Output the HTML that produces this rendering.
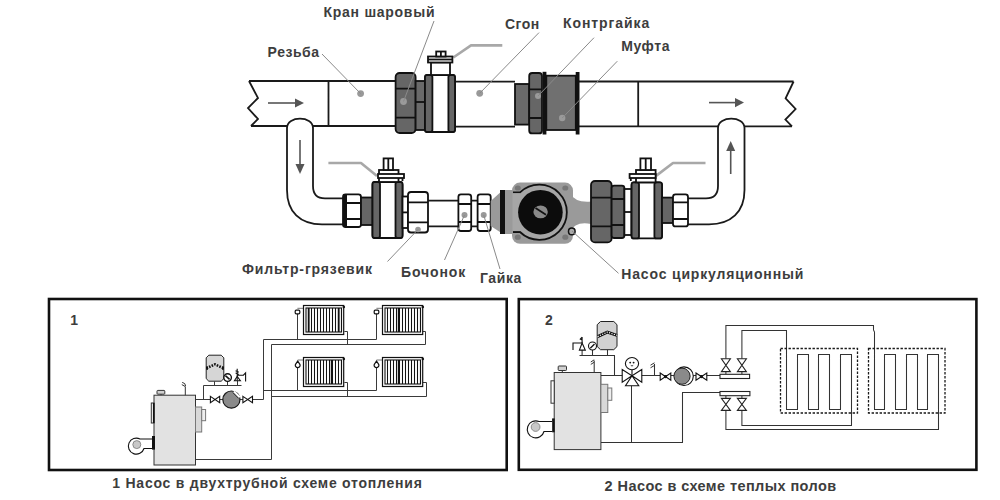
<!DOCTYPE html>
<html><head><meta charset="utf-8">
<style>
html,body{margin:0;padding:0;background:#fff;width:1000px;height:500px;overflow:hidden}
svg{display:block}
text{font-family:"Liberation Sans",sans-serif;font-weight:bold;fill:#3d3d3d;font-size:14px}
</style></head><body>
<svg width="1000" height="500" viewBox="0 0 1000 500">
<rect width="1000" height="500" fill="#fff"/>

<!-- ============ TOP DIAGRAM ============ -->
<g id="top" fill="none" stroke="#1a1a1a" stroke-width="1.8">
  <!-- top pipe left -->
  <path d="M249,81 H396 M251,126 H287 M313,126 H396 M249,81 L258,98 L248,108 L258,119 L251,126 M328.5,81 V126"/>
  <!-- top pipe right -->
  <path d="M579,81.5 H793.6 M579,126.4 H718 M744.5,126.4 H792 M793.6,81.5 L785.6,98.4 L795.6,109 L785.4,119.6 L792,126.4 M638.2,81.5 V126.4"/>
  <!-- Сгон pipe -->
  <path d="M455,81.7 H515 M455,126.6 H515"/>
  <!-- left elbow -->
  <path d="M287,128 C287,115.5 313,115.5 313,128 V186 Q313,198.4 325,198.4 H345 M287,128 V190 C287,212 300,224.4 322,224.4 H345"/>
  <!-- right elbow -->
  <path d="M718,128 C718,115.5 744.5,115.5 744.5,128 V190 C744.5,212 731,224.4 709,224.4 H688 M718,128 V186 Q718,198.4 706,198.4 H688"/>
  <!-- narrow pipe between filter and pump -->
  <path d="M428,200.7 H458.5 M428,226.3 H458.5 M471.2,200.7 H477.6 M471.2,226.3 H477.6"/>
</g>

<!-- arrows -->
<g stroke="#555" stroke-width="1.6" fill="#555">
  <path d="M268,103 H298" fill="none"/><path d="M295,98.5 L304,103 L295,107.5 Z" stroke="none"/>
  <path d="M709,102.6 H738" fill="none"/><path d="M735,98 L744,102.6 L735,107.2 Z" stroke="none"/>
  <path d="M300,140 V167" fill="none"/><path d="M295.5,164 L300,174 L304.5,164 Z" stroke="none"/>
  <path d="M730.7,148 V174" fill="none"/><path d="M726.2,151 L730.7,141 L735.2,151 Z" stroke="none"/>
</g>

<!-- levers -->
<g stroke="#a8a8a8" stroke-width="2.6" fill="none" stroke-linejoin="round">
  <path d="M453.3,57.5 L471,45.4 H502.3"/>
  <path d="M377,176 L361,163 H328.4"/>
  <path d="M656.4,175.6 L673,163 H705.5"/>
</g>

<!-- ===== top run components ===== -->
<g stroke="#111" stroke-width="1.8">
  <!-- Кран шаровый nut -->
  <rect x="395.6" y="73" width="20" height="60" rx="4" fill="#666"/>
  <path d="M395.6,88.6 H415.6 M395.6,117.6 H415.6" fill="none"/>
  <rect x="415.6" y="81" width="9.4" height="49" fill="#6a6a6a"/>
  <path d="M415.6,102 H425" fill="none"/>
  <!-- ball valve C -->
  <rect x="425" y="75" width="30" height="57" rx="3" fill="#fff"/>
  <rect x="425" y="75" width="7.4" height="57" rx="2" fill="#666"/>
  <rect x="448.4" y="75" width="6.6" height="57" rx="2" fill="#666"/>
  <rect x="431" y="62.4" width="19" height="12.6" fill="#fff"/>
  <rect x="428" y="56.5" width="24.4" height="6" fill="#fff"/>
  <path d="M428,59.5 H452.4" fill="none"/>
  <rect x="436.2" y="51.5" width="9.4" height="5" fill="#fff"/>
  <path d="M440.9,51.5 V56.5" fill="none"/>
  <!-- dark section + Контргайка -->
  <rect x="515" y="84" width="14.2" height="40.6" fill="#6a6a6a"/>
  <rect x="529.2" y="73" width="12.8" height="60.4" rx="3" fill="#666"/>
  <path d="M529.2,89.4 H542 M529.2,118 H542" fill="none"/>
  <rect x="542.6" y="71.8" width="3.8" height="62.7" fill="#111" stroke="none"/>
  <rect x="546.3" y="75.7" width="29.5" height="54.3" fill="#707070"/>
  <rect x="575.7" y="72" width="3.8" height="62.5" fill="#111" stroke="none"/>
</g>

<!-- ===== bottom run components ===== -->
<g stroke="#111" stroke-width="1.8">
  <!-- white nut A -->
  <rect x="343" y="194.4" width="18" height="32.6" rx="2.5" fill="#fff"/>
  <rect x="343" y="194.4" width="4" height="32.6" fill="#111" stroke="none"/>
  <path d="M343,203 H361 M343,219 H361" fill="none"/>
  <rect x="361" y="197.5" width="12" height="27.5" fill="#666"/>
  <!-- ball valve A -->
  <rect x="372.5" y="182" width="30" height="56" rx="3" fill="#fff"/>
  <rect x="372.5" y="182" width="7.5" height="56" rx="2" fill="#666"/>
  <rect x="395.5" y="182" width="7" height="56" rx="2" fill="#666"/>
  <rect x="379" y="170" width="19.5" height="12" fill="#fff"/>
  <rect x="378" y="174" width="26" height="4" fill="#fff"/>
  <path d="M402.5,178 V181" fill="none"/>
  <rect x="383.6" y="158.4" width="9.4" height="11.6" fill="#fff"/>
  <path d="M388.3,158.4 V170" fill="none"/>
  <!-- small section + filter nut -->
  <rect x="402.5" y="196.5" width="5.5" height="31.5" fill="#fff"/>
  <path d="M402.5,212.4 H408" fill="none"/>
  <rect x="408" y="192" width="20" height="40.5" rx="3" fill="#fff"/>
  <path d="M408,202.4 H428 M408,222.4 H428" fill="none"/>
  <!-- Бочонок & Гайка -->
  <rect x="458.4" y="194.3" width="12.8" height="36.7" rx="2.5" fill="#fff"/>
  <path d="M458.4,204 H471.2 M458.4,222 H471.2" fill="none"/>
  <rect x="477.6" y="194.3" width="13.1" height="36.7" rx="2.5" fill="#fff"/>
  <path d="M477.6,204 H490.7 M477.6,222 H490.7" fill="none"/>
</g>

<!-- pump -->
<g>
  <path d="M490.7,201 L503,190 V234 L490.7,226 Z" fill="#9a9a9a"/>
  <rect x="503" y="190" width="14" height="44" fill="#9a9a9a"/>
  <rect x="512" y="182.6" width="61" height="61.2" rx="8" fill="#9a9a9a"/>
  <path d="M570,193 Q575,203 591,201.5 V224 Q575,221 570,232 Z" fill="#9a9a9a"/>
  <rect x="500" y="190" width="5" height="44" fill="#111"/>
  <path d="M513,192.4 H520 A27.6,27.6 0 1,1 520,232 H513" fill="#a6a6a6" stroke="#111" stroke-width="1.8"/>
  <rect x="512.5" y="193.3" width="8" height="37.8" fill="#a6a6a6"/>
  <circle cx="540.4" cy="212.2" r="22.3" fill="#0c0c0c"/>
  <ellipse cx="540.6" cy="211.9" rx="7.2" ry="6.4" fill="#8a8a8a"/>
  <path d="M535.5,208 L546,214.8" stroke="#111" stroke-width="1.7"/>
  <ellipse cx="517.8" cy="188" rx="3" ry="2.6" fill="#777"/>
  <ellipse cx="565.3" cy="188" rx="3" ry="2.6" fill="#777"/>
  <ellipse cx="517.8" cy="237.2" rx="3" ry="2.6" fill="#777"/>
  <ellipse cx="565.3" cy="237.2" rx="3" ry="2.6" fill="#777"/>
  <circle cx="571.8" cy="231.4" r="3.3" fill="#aaa" stroke="#111" stroke-width="1.5"/>
</g>

<!-- right valves -->
<g stroke="#111" stroke-width="1.8">
  <rect x="591" y="181" width="20.6" height="61.4" rx="4" fill="#666"/>
  <path d="M591,197.6 H611.6 M591,226.4 H611.6" fill="none"/>
  <rect x="611.6" y="185.6" width="12.8" height="52.4" rx="2.5" fill="#666"/>
  <path d="M611.6,199 H624.4 M611.6,225 H624.4" fill="none"/>
  <rect x="624.4" y="189" width="7.2" height="46" fill="#fff"/>
  <path d="M624.4,212 H631.6" fill="none"/>
  <rect x="631.6" y="182.4" width="30.4" height="56" rx="3" fill="#fff"/>
  <rect x="631.6" y="182.4" width="7.4" height="56" rx="2" fill="#666"/>
  <rect x="654.4" y="182.4" width="7.6" height="56" rx="2" fill="#666"/>
  <rect x="636" y="170" width="19.6" height="12.4" fill="#fff"/>
  <rect x="629.6" y="174" width="26" height="4" fill="#fff"/>
  <path d="M630.8,178 V181" fill="none"/>
  <rect x="640.4" y="158.4" width="10.6" height="11.6" fill="#fff"/>
  <path d="M645.7,158.4 V170" fill="none"/>
  <rect x="662" y="197.6" width="11" height="25.4" fill="#666"/>
  <rect x="673" y="194.4" width="15" height="32" rx="2.5" fill="#fff"/>
  <path d="M673,202.4 H688 M673,219 H688" fill="none"/>
</g>

<!-- dots -->
<g fill="#999">
  <circle cx="360.6" cy="93.6" r="3.4"/>
  <circle cx="479.7" cy="93.3" r="3.4"/>
  <circle cx="403.5" cy="101.5" r="3.4" fill="#9a9a9a"/>
  <circle cx="538" cy="96" r="3" fill="#9a9a9a"/>
  <circle cx="562.2" cy="118" r="3.2" fill="#9a9a9a"/>
  <circle cx="418" cy="229.5" r="2.8"/>
  <circle cx="464.5" cy="215" r="3"/>
  <circle cx="483.7" cy="215" r="3"/>
</g>

<!-- leaders -->
<g stroke="#8a8a8a" stroke-width="1" fill="none">
  <path d="M322,54 L360.6,93.6"/>
  <path d="M434,21 L403.5,101.5"/>
  <path d="M539,32.6 L479.7,93.3"/>
  <path d="M594,37.7 L538,96"/>
  <path d="M617.3,61.2 L562.2,118"/>
  <path d="M387.5,261.5 L418,229.5"/>
  <path d="M444.5,260 L464.5,215"/>
  <path d="M500,269 L483.7,215"/>
  <path d="M618.5,273.3 L572,231"/>
</g>

<!-- labels -->
<text x="323.5" y="16.6" textLength="111.0" lengthAdjust="spacing">Кран шаровый</text>
<text x="267.6" y="57.3" textLength="51.5" lengthAdjust="spacing">Резьба</text>
<text x="505.0" y="29.3" textLength="34.3" lengthAdjust="spacing">Сгон</text>
<text x="563.0" y="28.2" textLength="86.3" lengthAdjust="spacing">Контргайка</text>
<text x="621.2" y="50.5" textLength="48.3" lengthAdjust="spacing">Муфта</text>
<text x="242.0" y="273.7" textLength="130.0" lengthAdjust="spacing">Фильтр-грязевик</text>
<text x="401.0" y="276.7" textLength="64.3" lengthAdjust="spacing">Бочонок</text>
<text x="480.0" y="282.7" textLength="41.3" lengthAdjust="spacing">Гайка</text>
<text x="621.3" y="279.3" textLength="182.0" lengthAdjust="spacing">Насос циркуляционный</text>

<!-- ===== PANEL 1 ===== -->
<g id="p1">
<!-- pipes -->
<g fill="none" stroke="#3a3a3a" stroke-width="1">
  <path d="M195.5,399.5 H263.5 V339.5 H376.5 M263.5,390.5 H376.5"/>
  <path d="M271.5,459.5 H195.5 M271.5,459.5 V344.5 H425.5 V331.5 H422.7 M271.5,396.5 H426.5 V382.5 H423"/>
  <path d="M347.5,344.5 V331.5 H344.4 M347.5,396.5 V382.5 H344.4"/>
  <path d="M297.5,313.6 V339.5 M376.5,313.6 V339.5 M297.5,365.6 V390.5 M376.5,365.6 V390.5"/>
  <path d="M297.4,308.3 H303.2 M376.4,308.3 H382.4 M297.7,360 H303.2 M376.5,360 H382.4" stroke="#666" stroke-width="0.9"/>
  <path d="M203.5,399.5 V385.5 H241.5 M214.5,381.4 V385.5 M227.5,381.2 V385.5 M237.5,381 V385.5"/>
</g>
<rect x="303.5" y="305.5" width="40.2" height="29" fill="#fff" stroke="#111" stroke-width="1.2"/>
<rect x="306" y="308" width="35.5" height="24" fill="#fff" stroke="#111" stroke-width="1.1"/>
<path d="M308.5,308 V332 M311.5,308 V332 M314.5,308 V332 M317.5,308 V332 M320.5,308 V332 M323.5,308 V332 M326.5,308 V332 M329.5,308 V332 M332.5,308 V332 M335.5,308 V332 M338.5,308 V332 M341.5,308 V332" stroke="#111" stroke-width="1.05"/>
<rect x="307.8" y="308" width="1.8" height="24" fill="#111"/>
<rect x="337.8" y="308" width="1.8" height="24" fill="#111"/>
<circle cx="343.8" cy="307" r="1.3" fill="#111"/>
<rect x="382.5" y="305.5" width="40.2" height="29" fill="#fff" stroke="#111" stroke-width="1.2"/>
<rect x="385" y="308" width="35.5" height="24" fill="#fff" stroke="#111" stroke-width="1.1"/>
<path d="M387.5,308 V332 M390.5,308 V332 M393.5,308 V332 M396.5,308 V332 M399.5,308 V332 M402.5,308 V332 M405.5,308 V332 M408.5,308 V332 M411.5,308 V332 M414.5,308 V332 M417.5,308 V332 M420.5,308 V332" stroke="#111" stroke-width="1.05"/>
<rect x="397.8" y="308" width="1.8" height="24" fill="#111"/>
<circle cx="422.8" cy="307" r="1.3" fill="#111"/>
<rect x="303.5" y="357.5" width="40.2" height="29" fill="#fff" stroke="#111" stroke-width="1.2"/>
<rect x="306" y="360" width="35.5" height="24" fill="#fff" stroke="#111" stroke-width="1.1"/>
<path d="M308.5,360 V384 M311.5,360 V384 M314.5,360 V384 M317.5,360 V384 M320.5,360 V384 M323.5,360 V384 M326.5,360 V384 M329.5,360 V384 M332.5,360 V384 M335.5,360 V384 M338.5,360 V384 M341.5,360 V384" stroke="#111" stroke-width="1.05"/>
<rect x="330.8" y="360" width="1.8" height="24" fill="#111"/>
<circle cx="343.8" cy="359" r="1.3" fill="#111"/>
<rect x="382.5" y="357.5" width="40.2" height="29" fill="#fff" stroke="#111" stroke-width="1.2"/>
<rect x="385" y="360" width="35.5" height="24" fill="#fff" stroke="#111" stroke-width="1.1"/>
<path d="M387.5,360 V384 M390.5,360 V384 M393.5,360 V384 M396.5,360 V384 M399.5,360 V384 M402.5,360 V384 M405.5,360 V384 M408.5,360 V384 M411.5,360 V384 M414.5,360 V384 M417.5,360 V384 M420.5,360 V384" stroke="#111" stroke-width="1.05"/>
<rect x="397.8" y="360" width="1.8" height="24" fill="#111"/>
<circle cx="422.8" cy="359" r="1.3" fill="#111"/>
<!-- radiator valves -->
<g fill="#fff" stroke="#111" stroke-width="1.2">
  <rect x="295.2" y="310.2" width="4.6" height="3.6" rx="1"/>
  <rect x="374.2" y="310.2" width="4.6" height="3.6" rx="1"/>
  <path d="M297.7,361 L300,364.6 A2.4,2.4 0 1,1 295.4,364.6 Z"/>
  <path d="M376.5,361 L378.8,364.6 A2.4,2.4 0 1,1 374.2,364.6 Z"/>
</g>
<!-- boiler -->
<g stroke="#333" stroke-width="1">
  <rect x="154" y="395.2" width="41.5" height="69.8" fill="#e2e2e2"/>
  <rect x="157" y="390.4" width="7.8" height="3.8" fill="#d0d0d0" rx="0.8"/>
  <path d="M161,394.2 V395.2 M185.3,395.2 V386.5" fill="none"/>
  <path d="M181.8,384.6 L185.3,386.6 M182.2,382.4 Q185.6,383 185.6,386" fill="none" stroke-width="1"/>
  <rect x="151.3" y="403" width="2.8" height="20" fill="#fff"/>
  <rect x="152.9" y="403" width="1.6" height="20" fill="#111" stroke="none"/>
  <rect x="195.5" y="407" width="6.2" height="25" fill="#d8d8d8" stroke="#777"/>
  <rect x="201.7" y="409.5" width="3.9" height="11.2" fill="#eee" stroke="#777"/>
  <rect x="152" y="436" width="3" height="13.6" fill="#111" stroke="none"/>
  <path d="M152,439 H140 A8,8 0 1,0 144,448.5 H152" fill="#fff" stroke="#111" stroke-width="1.1"/>
  <circle cx="136.8" cy="444.6" r="4" fill="#c8c8c8" stroke="#777" stroke-width="0.8"/>
</g>
<!-- expansion tank -->
<g stroke="#222" stroke-width="1">
  <path d="M208.8,355.2 H221.2 L223.8,357.8 V378.6 L221.2,381.2 H208.8 L206.2,378.6 V357.8 Z" fill="#d6d6d6"/>
  <path d="M206.5,368.2 L215,364.4 L223.5,368.2" fill="none" stroke="#111" stroke-width="2.6" stroke-dasharray="1.6,1.2"/>
  <path d="M206.2,366.6 H208 V369.8 H206.2 Z M223.8,366.6 H222 V369.8 H223.8 Z" fill="#111" stroke="none"/>
</g>
<!-- valves & pump -->
<g stroke="#111" stroke-width="1.1" fill="#fff">
  <path d="M210.4,396.4 L219.7,402.8 V396.4 L210.4,402.8 Z"/>
  <path d="M242.9,396.4 L252.5,402.8 V396.4 L242.9,402.8 Z"/>
  <circle cx="231.4" cy="399.6" r="8.6" fill="#8a8a8a" stroke="#1a1a1a" stroke-width="1.2"/>
  <path d="M234,391.4 L239.8,397.2" stroke="#fff" stroke-width="2"/>
  <path d="M232.8,392.6 L238.6,398.4" stroke="#222" stroke-width="0.9"/>
  <circle cx="227.6" cy="377.6" r="3.8" stroke-width="1.4"/>
  <path d="M225.4,375.6 L229.6,379.4" stroke-width="1.5"/>
  <path d="M234.4,380.8 L237.2,376.4 L240.4,380.8 Z"/>
  <path d="M237.2,380.8 V368.8 M235.6,370.8 L238.8,372.2 M235.6,373 L238.8,374.4 M237.2,375.2 H243.4 L245.6,372.8 V381.6" fill="none"/>
</g>
</g>

<!-- ===== PANEL 2 ===== -->
<g id="p2">
<g fill="none" stroke="#333" stroke-width="1.05">
  <path d="M600.9,375.5 H720"/>
  <path d="M720,392.5 H682.5 V442.5 H600.9"/>
  <path d="M631.5,385.5 V442.5"/>
  <path d="M579.5,355.5 H614.5 V375.5 M607.5,349.7 V355.5 M592.5,350 V355.5 M582.1,350 V355.5"/>
  <path d="M594.2,372.5 V360.5 M654.5,375.4 V364"/>
  <path d="M650.5,365.2 L654.5,362.8 M650.5,367.8 L654.5,365.4 M590.8,362 L594.2,359.8 M590.8,364.4 L594.2,362.2" stroke-width="1"/>
  <path d="M725.9,358.8 V325.5 H873.5 V330 L874.5,332 V409.5 H884.5 V354.5 H895.5 V409.5 H906.5 V354.5 H917.5 V409.5 H927.5 V354.5 H938.5 V429.5 H725.9 V410.4"/>
  <path d="M741.9,358.8 V330.5 H786.5 V409.5 H797.5 V354.5 H808.5 V409.5 H818.5 V354.5 H829.5 V409.5 H840.5 V354.5 H851.5 V425.5 H741.9 V410.4"/>
  <path d="M725.9,371.6 V374.3 M741.9,371.6 V374.3 M725.9,395.7 V398.4 M741.9,395.7 V398.4"/>
</g>
<g fill="none" stroke="#1a1a1a" stroke-width="1.3" stroke-dasharray="2.4,1.6">
  <rect x="780.5" y="348.5" width="77" height="64.5"/>
  <rect x="868.5" y="348.5" width="76.5" height="64.5"/>
</g>
<!-- manifolds -->
<g fill="#fff" stroke="#222" stroke-width="1.1">
  <rect x="720" y="374.3" width="29.6" height="4.2"/>
  <rect x="720" y="391.5" width="29.9" height="4.2"/>
  <path d="M721.4,358.8 H730.4 L721.4,371.6 H730.4 Z"/>
  <path d="M737.4,358.8 H746.4 L737.4,371.6 H746.4 Z"/>
  <path d="M721.4,398.4 H730.4 L721.4,410.4 H730.4 Z"/>
  <path d="M737.4,398.4 H746.4 L737.4,410.4 H746.4 Z"/>
</g>
<!-- boiler 2 -->
<g stroke="#333" stroke-width="1">
  <rect x="554.2" y="372.5" width="46.7" height="77.1" fill="#e2e2e2"/>
  <rect x="558.2" y="366" width="8.3" height="4.5" fill="#d0d0d0" rx="0.8"/>
  <path d="M562.3,370.5 V372.5" fill="none"/>
  
  <rect x="551" y="380.8" width="3.2" height="22.4" fill="#fff"/>
  <rect x="600.9" y="384.3" width="6.9" height="28.2" fill="#d8d8d8" stroke="#777"/>
  <rect x="607.8" y="388" width="4" height="12.3" fill="#eee" stroke="#777"/>
  <rect x="552.1" y="418.4" width="2.6" height="13.9" fill="#111" stroke="none"/>
  <path d="M552.1,421.5 H539 A8.5,8.5 0 1,0 544,431.5 H552.1" fill="#fff" stroke="#111" stroke-width="1.1"/>
  <circle cx="535.6" cy="427" r="4.4" fill="#c8c8c8" stroke="#777" stroke-width="0.8"/>
</g>
<!-- tank 2 -->
<g stroke="#222" stroke-width="1">
  <path d="M600.5,321.5 H613.8 L617,324.7 V346.5 L613.8,349.7 H600.5 L597.2,346.5 V324.7 Z" fill="#d2d2d2"/>
  <path d="M597.6,336.6 L607.3,332.1 L617,335.3" fill="none" stroke="#111" stroke-width="3"/>
  <path d="M597.6,336.6 L607.3,332.1 L617,335.3" fill="none" stroke="#fff" stroke-width="1.2" stroke-dasharray="1.2,1.3"/>
</g>
<!-- symbols -->
<g stroke="#111" stroke-width="1.1" fill="#fff">
  <circle cx="592.5" cy="346" r="4"/>
  <path d="M590.3,348.3 L594.5,344" stroke-width="1.3"/>
  <path d="M579.4,350.1 L582.1,343 L585.3,350.1 Z"/>
  <path d="M582.1,343 V337 M582.1,337.2 L580.3,339 L582.1,340 M582.1,343 H573 V350" fill="none"/>
  <!-- 3-way valve -->
  <path d="M632,376 V369.8" fill="none"/>
  <ellipse cx="632" cy="363.6" rx="6.6" ry="6.1"/>
  <path d="M622.2,369.5 L632,375.8 L622.2,382.3 Z M641.8,369.5 L632,375.8 L641.8,382.3 Z M632,375.8 L625.5,385.8 H638.8 Z"/>
  <circle cx="630.2" cy="362.6" r="0.4" fill="#111"/><circle cx="633.6" cy="362.6" r="0.4" fill="#111"/>
  <path d="M630.8,365.4 Q632,366.6 633.2,365.4" fill="none" stroke-width="0.8"/>
  <!-- valves -->
  <path d="M660.2,373 L670.8,380.2 V373 L660.2,380.2 Z"/>
  <path d="M696,373 L706.8,380.2 V373 L696,380.2 Z"/>
  <circle cx="665.5" cy="376.6" r="1" fill="#111"/>
  <circle cx="701.4" cy="376.6" r="1" fill="#111"/>
  <!-- pump 2 -->
  <circle cx="684" cy="376.2" r="9.3" fill="#fff"/>
  <circle cx="682" cy="376.2" r="8.1" fill="#8a8a8a" stroke="#222" stroke-width="1"/>
  </g>
</g>

<!-- ============ PANELS ============ -->
<rect x="49" y="299" width="457.7" height="171" fill="none" stroke="#111" stroke-width="2.6"/>
<rect x="518.8" y="299.1" width="457.6" height="170.7" fill="none" stroke="#111" stroke-width="2.6"/>
<text x="70.2" y="325.3" style="font-size:14px">1</text>
<text x="545" y="325" style="font-size:14px">2</text>
<text x="112.3" y="487.7" textLength="309.5" lengthAdjust="spacing">1 Насос в двухтрубной схеме отопления</text>
<text x="604.6" y="491" style="font-size:14.5px" textLength="231.5" lengthAdjust="spacing">2 Насос в схеме теплых полов</text>

</svg>
</body></html>
